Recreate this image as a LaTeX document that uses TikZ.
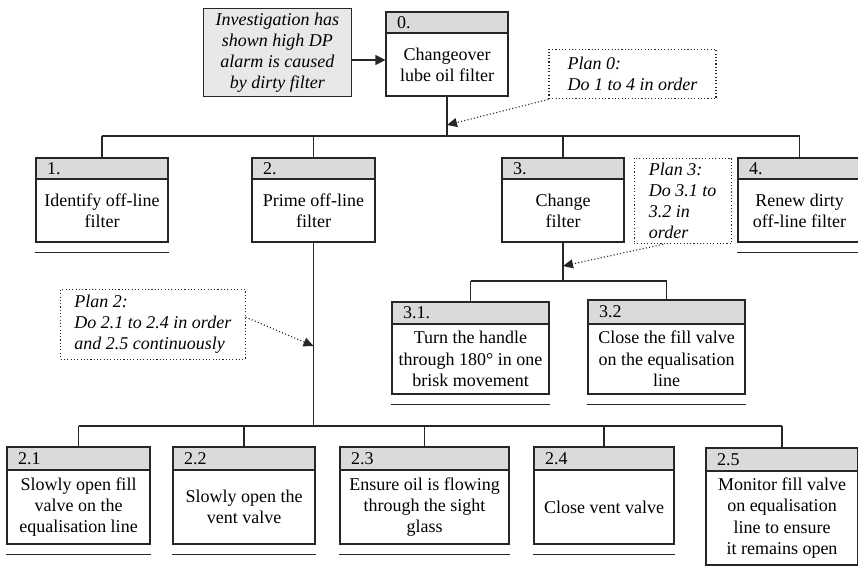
\documentclass[tikz,border=0pt]{standalone}
\usepackage{fontspec}
\setmainfont{Liberation Serif}
\usetikzlibrary{arrows.meta,fit,calc}
\definecolor{hdr}{HTML}{DADADA}
\definecolor{invfill}{HTML}{E8E8E8}
\definecolor{ln}{HTML}{262626}
\tikzset{
  boxline/.style={draw=ln, line width=1.1pt},
  arr/.style={-{Triangle[length=10pt,width=10pt]}, draw=ln, fill=ln, line width=1.1pt},
  dotarr/.style={-{Triangle[length=10pt,width=9pt]}, draw=ln, line width=1.1pt, dash pattern=on 1.1pt off 2.2pt},
  plan/.style={draw=ln, line width=1.1pt, dash pattern=on 1.1pt off 2.2pt, align=left,
    font=\fontsize{18}{21}\selectfont\itshape, inner sep=0pt},
  inv/.style={draw=ln, fill=invfill, line width=1.1pt, align=center,
    font=\fontsize{18}{21}\selectfont\itshape, inner sep=0pt},
  frame/.style={draw=ln, line width=1.1pt, inner sep=0pt},
  bodytext/.style={align=center, inner sep=0pt},
  numtext/.style={anchor=west, inner sep=0pt},
}
\newcommand{\tbox}[8]{%
  \fill[hdr] (#2,#3) rectangle (#4,#6);
  \draw[boxline] (#2,#6) -- (#4,#6);
  \node[frame, fit={(#2,#3) (#4,#5)}] (#1) {};
  \node[numtext] (#1h) at ({#2+11},{(#3+#6)/2}) {#7};
  \node[bodytext] (#1t) at ({(#2+#4)/2},{(#6+#5)/2}) {#8};
}
\newcommand{\uline}[1]{%
  \draw[boxline] ([yshift=-10pt]#1.south west) -- ([yshift=-10pt]#1.south east);
}
\begin{document}
\begin{tikzpicture}[x=1pt,y=-1pt, every node/.append style={font=\fontsize{18}{21.3}\selectfont}]
\clip (0,0) rectangle (858,571);
\fill[white] (0,0) rectangle (858,571);

% investigation note
\node[inv, minimum width=148.7pt, minimum height=87.3pt] (inv) at (277.4,52.4)
  {Investigation has\\shown high DP\\alarm is caused\\by dirty filter};

% task boxes
\tbox{b0}{386}{12}{508}{96}{33}{0.}{Changeover\\lube oil filter}
\tbox{b1}{36}{158}{168}{242}{179}{1.}{Identify off-line\\filter}
\tbox{b2}{252}{158}{375}{242}{179}{2.}{Prime off-line\\filter}
\tbox{b3}{502}{158}{624}{242}{179}{3.}{Change\\filter}
\tbox{b4}{738}{158}{861}{242}{179}{4.}{Renew dirty\\off-line filter}
\tbox{b31}{392}{302}{549}{394}{324}{3.1.}{Turn the handle\\through 180° in one\\brisk movement}
\tbox{b32}{588}{300}{745}{394}{324}{3.2}{Close the fill valve\\on the equalisation\\line}
\tbox{b21}{7}{447}{150}{544}{470}{2.1}{Slowly open fill\\valve on the\\equalisation line}
\tbox{b22}{173}{447}{315}{544}{470}{2.2}{Slowly open the\\vent valve}
\tbox{b23}{340}{447}{509}{544}{470}{2.3}{Ensure oil is flowing\\through the sight\\glass}
\tbox{b24}{534}{447}{674}{544}{470}{2.4}{Close vent valve}
\tbox{b25}{706}{448}{858}{565}{471}{2.5}{Monitor fill valve\\on equalisation\\line to ensure\\it remains open}

% underlines
\uline{b1}\uline{b4}\uline{b31}\uline{b32}
\uline{b21}\uline{b22}\uline{b23}\uline{b24}

% plans
\node[plan, minimum width=167pt, minimum height=49.7pt] (p0) at (632.5,74)
  {Plan 0:\\Do 1 to 4 in order};
\node[plan, minimum width=97.3pt, minimum height=85.7pt] (p3) at (682.7,200.9)
  {Plan 3:\\Do 3.1 to\\3.2 in\\order};
\node[plan, minimum width=184.3pt, minimum height=69.7pt] (p2) at (152.9,324.2)
  {Plan 2:\\Do 2.1 to 2.4 in order\\and 2.5 continuously};

% tree connectors
\coordinate (bus0) at (0,136);
\draw[boxline] (b0.south) -- (b0.south |- bus0);
\draw[boxline] (b1.north |- bus0) -- (b4.north |- bus0);
\foreach \n in {b1,b2,b3,b4} \draw[boxline] (\n.north) -- (\n.north |- bus0);

\coordinate (bus3) at (0,281);
\draw[boxline] (b3.south) -- (b3.south |- bus3);
\draw[boxline] (b31.north |- bus3) -- (b32.north |- bus3);
\foreach \n in {b31,b32} \draw[boxline] (\n.north) -- (\n.north |- bus3);

\coordinate (bus2) at (0,426);
\draw[boxline] (b2.south) -- (b2.south |- bus2);
\draw[boxline] (b21.north |- bus2) -- (b25.north |- bus2);
\foreach \n in {b21,b22,b23,b24,b25} \draw[boxline] (\n.north) -- (\n.north |- bus2);

% arrows
\coordinate (ay) at (0,60);
\draw[arr] (inv.east |- ay) -- (b0.west |- ay);
\coordinate (y0) at (0,125);
\coordinate (t0) at (b0.south |- y0);
\draw[dotarr] (p0.south west) -- (t0);
\coordinate (y3) at (0,266);
\coordinate (t3) at (b3.south |- y3);
\draw[dotarr] ($(p3.south west)!0.3!(p3.south east)$) -- (t3);
\coordinate (y2) at (0,346);
\coordinate (t2) at (b2.south |- y2);
\draw[dotarr] ($(p2.north east)!0.4!(p2.south east)$) -- (t2);
\end{tikzpicture}
\end{document}
